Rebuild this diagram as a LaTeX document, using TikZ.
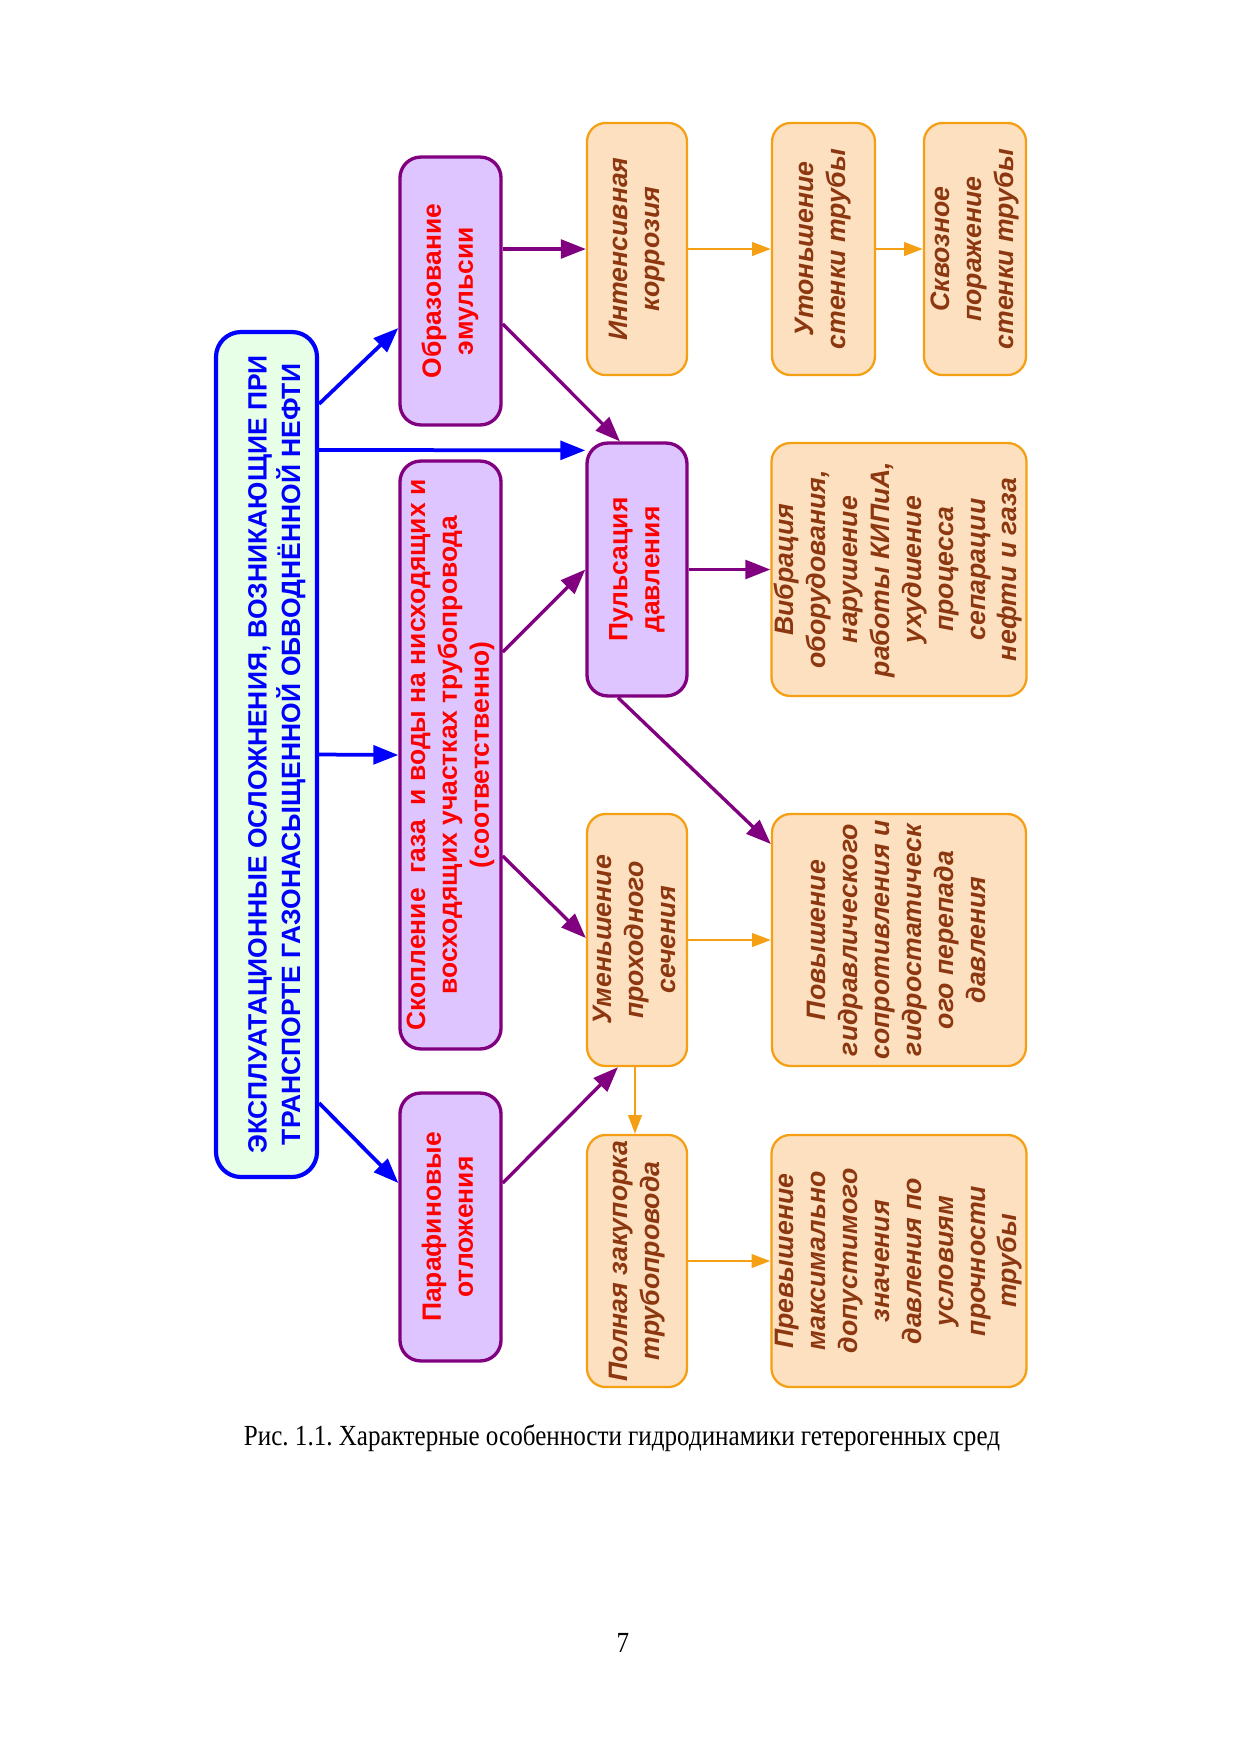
\documentclass[tikz,border=0pt]{standalone}
\usepackage{fontspec}
\setmainfont{Liberation Serif}
\newfontfamily\arialfont{Liberation Sans}
\newfontfamily\capfont[FakeStretch=0.86]{Liberation Serif}
\usetikzlibrary{calc,arrows.meta}
\definecolor{mainblue}{RGB}{0,0,255}
\definecolor{mainfill}{RGB}{230,255,230}
\definecolor{purp}{RGB}{128,0,128}
\definecolor{lav}{RGB}{222,197,255}
\definecolor{orng}{RGB}{245,160,20}
\definecolor{peach}{RGB}{253,224,192}
\definecolor{brwn}{RGB}{140,55,15}
\newcommand{\rtext}[1]{\rotatebox{90}{\begin{tabular}{@{}c@{}}#1\end{tabular}}}
\tikzset{
  mainbox/.style={draw=mainblue, line width=2pt, fill=mainfill, rounded corners=12pt,
    inner sep=0pt, text=mainblue, font=\arialfont\bfseries\fontsize{12.7}{15.4}\selectfont},
  purpbox/.style={draw=purp, line width=1.6pt, fill=lav, rounded corners=10pt,
    inner sep=0pt, text=red, font=\arialfont\bfseries\fontsize{12.7}{15.3}\selectfont},
  orbox/.style={draw=orng, line width=1.1pt, fill=peach, rounded corners=9pt,
    inner sep=0pt, text=brwn, font=\arialfont\bfseries\itshape\fontsize{12.8}{15.3}\selectfont},
  bluearr/.style={draw=mainblue, line width=1.8pt, -{Triangle[length=12pt,width=9pt]}},
  purparr/.style={draw=purp, line width=1.6pt, -{Triangle[length=12pt,width=9pt]}},
  orarr/.style={draw=orng, line width=1.1pt, -{Triangle[length=9pt,width=6.5pt]}},
}
\begin{document}
\begin{tikzpicture}[x=0.48pt, y=-0.48pt]
\fill[white] (0,0) rectangle (1241,1755);
\useasboundingbox (0,0) rectangle (1241,1755);

% main box
\node[mainbox, minimum width=48.5pt, minimum height=405.6pt] (main) at (266.5,754.5)
  {\hspace*{10pt}\rtext{ЭКСПЛУАТАЦИОННЫЕ ОСЛОЖНЕНИЯ, ВОЗНИКАЮЩИЕ ПРИ\\ТРАНСПОРТЕ ГАЗОНАСЫЩЕННОЙ ОБВОДНЁННОЙ НЕФТИ}};

% purple column
\node[purpbox, minimum width=48.5pt, minimum height=128.6pt] (emul) at (450.5,291)
  {\rtext{Образование\\эмульсии}};
\node[purpbox, minimum width=48.5pt, minimum height=282.2pt] (skop) at (450.5,755)
  {\rtext{Скопление\ \ газа\ \ и воды на нисходящих и\\восходящих участках трубопровода\\(соответственно)}};
\node[purpbox, minimum width=48.5pt, minimum height=128.6pt] (paraf) at (450.5,1227)
  {\rtext{Парафиновые\\отложения}};

% third column
\node[orbox, minimum width=48pt, minimum height=121pt] (korr) at (637,249)
  {\rtext{Интенсивная\\коррозия}};
\node[purpbox, minimum width=48pt, minimum height=121.4pt] (puls) at (637,569.5)
  {\rtext{Пульсация\\давления}};
\node[orbox, minimum width=48pt, minimum height=121pt] (umen) at (637,940)
  {\rtext{Уменьшение\\проходного\\сечения}};
\node[orbox, minimum width=48pt, minimum height=121pt] (poln) at (637,1261)
  {\rtext{Полная закупорка\\трубопровода}};

% right columns
\node[orbox, minimum width=49.4pt, minimum height=121pt] (uton) at (823.5,249)
  {\rtext{Утоньшение\\стенки трубы}};
\node[orbox, minimum width=49pt, minimum height=121pt] (skvoz) at (975,249)
  {\rtext{Сквозное\\поражение\\стенки трубы}};
\node[orbox, minimum width=121.9pt, minimum height=121.4pt] (vibr) at (899,569.5)
  {\rtext{Вибрация\\оборудования,\\нарушение\\работы КИПиА,\\ухудшение\\процесса\\сепарации\\нефти и газа}};
\node[orbox, minimum width=121.9pt, minimum height=121pt] (povysh) at (899,940)
  {\rtext{Повышение\\гидравлического\\сопротивления и\\гидростатическ\\ого перепада\\давления}};
\node[orbox, minimum width=121.9pt, minimum height=121pt] (prevysh) at (899,1261)
  {\rtext{Превышение\\максимально\\допустимого\\значения\\давления по\\условиям\\прочности\\трубы}};

% blue connectors
\draw[bluearr] ($(main.north east)+(0,74)$) -- ($(emul.west)+(0,37)$);
\draw[bluearr] ($(main.north east)+(0,120)$) -- ($(puls.north west)+(0,9)$);
\draw[bluearr] (main.east) -- (skop.west);
\draw[bluearr] ($(main.south east)+(0,-76)$) -- ($(paraf.west)+(0,-44)$);

% purple connectors
\draw[purparr] (emul.east |- korr.west) -- (korr.west);
\draw[purparr] ($(emul.east)+(0,33)$) -- ($(puls.north)+(-17,0)$);
\draw[purparr] ($(skop.east)+(0,-103)$) -- (puls.west);
\draw[purparr] ($(skop.east)+(0,101)$) -- ($(umen.west)+(0,-2)$);
\draw[purparr] ($(paraf.east)+(0,-44)$) -- ($(umen.south)+(-19,0)$);
\draw[purparr] (puls.east) -- (vibr.west);
\draw[purparr] ($(puls.south)+(-19,0)$) -- ($(povysh.west)+(0,-96)$);

% orange connectors
\draw[orarr] (korr.east) -- (uton.west);
\draw[orarr] (uton.east) -- (skvoz.west);
\draw[orarr] (umen.east) -- (povysh.west);
\draw[orarr] ($(umen.south)+(-2,0)$) -- ($(poln.north)+(-2,0)$);
\draw[orarr] (poln.east) -- (prevysh.west);

% caption and page number
\node[anchor=base, inner sep=0pt, font=\capfont\frenchspacing\fontsize{14}{16}\selectfont] (cap) at (622,1445)
  {Рис. 1.1. Характерные особенности гидродинамики гетерогенных сред};
\node[anchor=base, inner sep=0pt, font=\capfont\fontsize{14}{16}\selectfont] (pnum) at (623,1652) {7};
\end{tikzpicture}
\end{document}
